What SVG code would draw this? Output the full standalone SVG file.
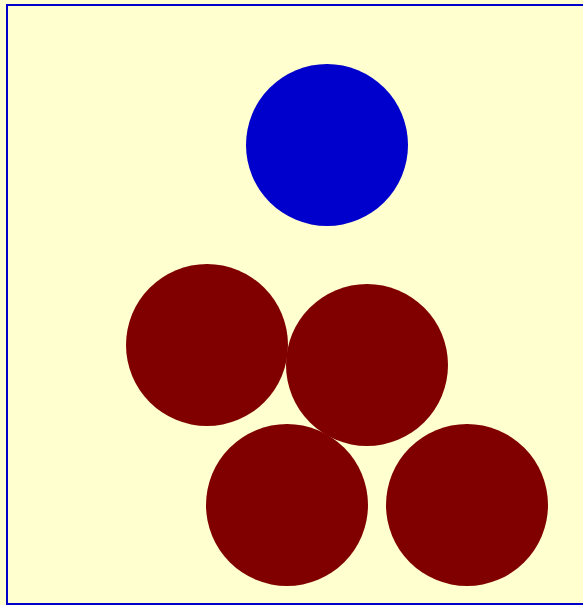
<svg xmlns="http://www.w3.org/2000/svg" width="583" height="605" viewBox="0 0 583 605">
<style>
.red{fill:#800000}
.blue{fill:#0000cc}
</style>
<rect x="0" y="0" width="583" height="605" fill="#ffffd0"/>
<rect x="7" y="5" width="600" height="599" fill="#ffffd0" stroke="#0000cc" stroke-width="2"/>
<g id="blue-ball"><circle class="blue" cx="327" cy="145" r="81"/></g>
<g id="red-ball-1"><circle class="red" cx="207" cy="345" r="81"/></g>
<g id="red-ball-2"><circle class="red" cx="367" cy="365" r="81"/></g>
<g id="red-ball-3"><circle class="red" cx="287" cy="505" r="81"/></g>
<g id="red-ball-4"><circle class="red" cx="467" cy="505" r="81"/></g>
</svg>
